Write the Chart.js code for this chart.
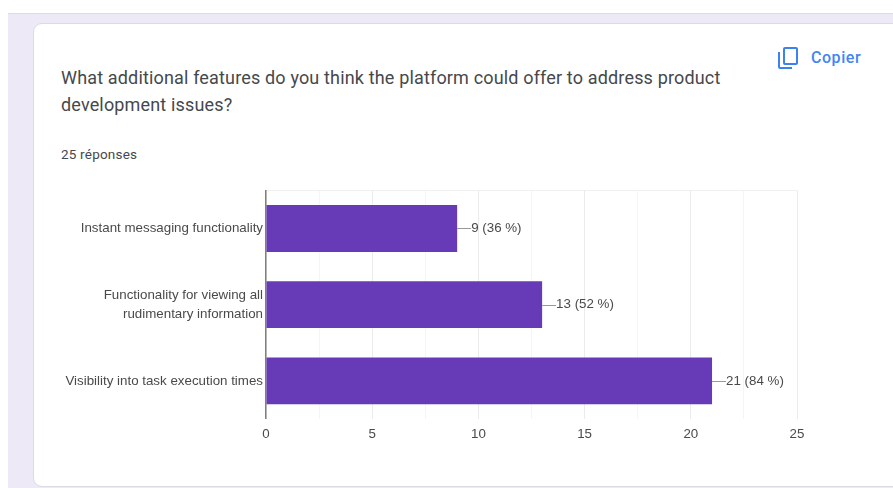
<!DOCTYPE html>
<html>
<head>
<meta charset="utf-8">
<title>Form responses</title>
<script src="https://cdn.jsdelivr.net/npm/chart.js@4/dist/chart.umd.min.js"></script>
<style>
  html, body { margin: 0; padding: 0; background: #fff; overflow: hidden; }
  body { width: 893px; height: 488px; position: relative; font-family: Roboto, sans-serif; }
  .page { position: absolute; left: 8px; top: 13px; right: 0; bottom: 0; background: #ede9f6; border-top: 1px solid #dedbe6; }
  .card { position: absolute; left: 33px; top: 23px; width: 870px; height: 464px; box-sizing: border-box; background: #fff; border: 1px solid #dadce0; border-radius: 9px; }
  .title { position: absolute; left: 61px; top: 64px; width: 700px; font-size: 18px; line-height: 27px; letter-spacing: .16px; color: #45484c; }
  .count { position: absolute; left: 61px; top: 146px; font-size: 13.5px; line-height: 16px; letter-spacing: .2px; color: #45484c; }
  .copy { position: absolute; left: 811px; top: 49px; font-size: 16px; line-height: 18px; font-weight: 500; letter-spacing: .55px; color: #4285f4; }
  .icon { position: absolute; left: 777px; top: 46px; }
  .plot { position: absolute; left: 33px; top: 178px; width: 860px; height: 302px; }
</style>
</head>
<body>
<div class="page"></div>
<div class="card"></div>
<div class="title">What additional features do you think the platform could offer to address product development issues?</div>
<div class="count">25 réponses</div>
<svg class="icon" width="22" height="24" viewBox="0 0 22 24" fill="none" stroke="#3b82f0" stroke-width="2">
  <rect x="7" y="2" width="13" height="16" rx="1"/>
  <path d="M2 6v15a1 1 0 0 0 1 1h12"/>
</svg>
<div class="copy">Copier</div>
<div class="plot"><canvas id="chart"></canvas></div>

<script>
const categories = [
  'Instant messaging functionality',
  ['Functionality for viewing all', 'rudimentary information'],
  'Visibility into task execution times',
];
const counts = [9, 13, 21];
const percents = [36, 52, 84];
const totalResponses = 25;

const BAR_COLOR = '#673ab7';
const TEXT_COLOR = '#4a4a4a';
const FONT = { family: 'Liberation Sans, Arial, sans-serif', size: 13.33, lineHeight: 1.4 };

// Leader line and "n (p %)" note to the right of each bar
const barNotes = {
  id: 'barNotes',
  afterDatasetsDraw(chart) {
    const { ctx } = chart;
    chart.getDatasetMeta(0).data.forEach((bar, i) => {
      ctx.save();
      ctx.strokeStyle = '#999';
      ctx.lineWidth = 1;
      ctx.beginPath();
      ctx.moveTo(bar.x, Math.round(bar.y) + 0.5);
      ctx.lineTo(bar.x + 14, Math.round(bar.y) + 0.5);
      ctx.stroke();
      ctx.fillStyle = TEXT_COLOR;
      ctx.font = `${FONT.size}px ${FONT.family}`;
      ctx.textBaseline = 'middle';
      ctx.fillText(`${counts[i]} (${percents[i]} %)`, bar.x + 14, bar.y);
      ctx.restore();
    });
  },
};

new Chart(document.getElementById('chart'), {
  type: 'bar',
  data: {
    labels: categories,
    datasets: [{
      data: counts,
      backgroundColor: BAR_COLOR,
      barPercentage: 0.615,
      categoryPercentage: 1,
    }],
  },
  options: {
    indexAxis: 'y',
    responsive: true,
    maintainAspectRatio: false,
    animation: false,
    layout: { padding: { top: 8, right: 96, bottom: 0, left: 0 } },
    plugins: { legend: { display: false }, tooltip: { enabled: false } },
    scales: {
      x: {
        min: 0,
        max: totalResponses,
        afterFit(scale) { scale.height = 61; },
        border: { display: false },
        grid: {
          drawTicks: false,
          color: (c) => (c.tick.value % 5 === 0 ? '#ebebeb' : '#f5f5f5'),
        },
        ticks: {
          stepSize: 2.5,
          autoSkip: false,
          maxRotation: 0,
          padding: 6,
          color: TEXT_COLOR,
          font: FONT,
          callback: (v) => (v % 5 === 0 ? v : ''),
        },
      },
      y: {
        afterFit(scale) { scale.width = 233; },
        border: { color: '#808080', width: 1.5 },
        grid: {
          drawTicks: false,
          color: (c) => (c.index === 0 || c.index === categories.length ? '#f0f0f0' : 'transparent'),
        },
        ticks: { padding: 3, color: TEXT_COLOR, font: FONT, autoSkip: false },
      },
    },
  },
  plugins: [barNotes],
});
</script>
</body>
</html>
